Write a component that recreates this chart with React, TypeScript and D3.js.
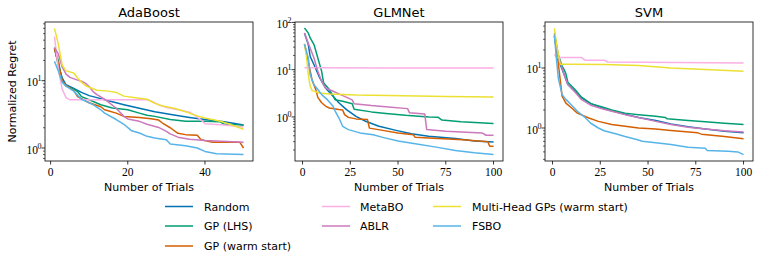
import React from 'react';
import * as d3 from 'd3';

type Pt = [number, number];

const methods = ['Random', 'GP (LHS)', 'GP (warm start)', 'MetaBO', 'ABLR', 'Multi-Head GPs (warm start)', 'FSBO'];
const colors = ['#0173b2', '#029e73', '#d55e00', '#fbafe4', '#cc78bc', '#ece133', '#56b4e9'];

// AdaBoost
const adaRandom: Pt[] = [[1, 31], [2, 17], [3, 11], [4, 8.7], [6, 7.7], [8, 6.7], [10, 6.0], [12, 5.6], [14, 5.2], [17, 4.7], [19, 4.4], [23, 3.9], [27, 3.45], [32, 3.1], [36, 2.85], [40, 2.65], [45, 2.45], [50, 2.2]];
const adaLHS: Pt[] = [[1, 30], [2, 20], [3, 9.8], [4, 8.3], [6, 7.5], [7, 6.9], [8, 5.8], [10, 5.2], [13, 4.4], [16, 3.93], [20, 3.7], [23, 3.3], [25, 3.07], [27, 2.95], [31, 2.65], [35, 2.49], [40, 2.49], [44, 2.45], [45, 2.25], [50, 2.2]];
const adaWarm: Pt[] = [[1, 30], [2, 18], [3, 10], [4, 8.5], [6, 7.1], [7, 5.8], [10, 4.7], [13, 4.1], [14, 3.7], [17, 3.3], [19, 2.95], [23, 2.85], [26, 2.72], [28, 2.6], [29, 2.35], [31, 2.0], [33, 1.65], [35, 1.58], [38, 1.55], [39, 1.33], [42, 1.22], [49, 1.22], [50, 1.0]];
const adaMetaBO: Pt[] = [[1, 45], [2, 15], [3, 7.5], [4, 5.6], [5, 5.2], [25, 5.2], [26, 5.0], [28, 4.4], [30, 4.0], [33, 3.7], [36, 3.4], [38, 2.9], [39, 2.6], [40, 2.3], [45, 2.2], [50, 2.05]];
const adaABLR: Pt[] = [[1, 31], [2, 25], [3, 16], [4, 12.5], [5, 11.2], [7, 10.2], [8, 9.8], [9, 9.2], [10, 8.2], [11, 6.9], [12, 6.2], [14, 5.3], [15, 4.8], [17, 3.9], [19, 2.95], [20, 2.7], [23, 2.49], [25, 2.25], [28, 2.02], [30, 1.77], [31, 1.62], [33, 1.45], [36, 1.35], [40, 1.29], [50, 1.22]];
const adaMH: Pt[] = [[1, 60], [2, 35], [3, 17], [4, 14], [6, 13], [7, 11], [8, 9.5], [9, 8.5], [10, 8], [12, 7.2], [15, 7], [17, 6.7], [19, 5.9], [22, 5.6], [25, 5.3], [27, 4.6], [29, 4.2], [32, 3.9], [34, 3.6], [36, 3.3], [38, 3.0], [40, 2.8], [44, 2.5], [47, 2.2], [50, 1.9]];
const adaFSBO: Pt[] = [[1, 19.4], [2, 14], [3, 9.5], [4, 8.3], [6, 7.0], [8, 5.3], [11, 4.4], [13, 3.7], [14, 3.3], [17, 2.65], [19, 2.25], [21, 1.8], [23, 1.67], [25, 1.49], [27, 1.41], [30, 1.33], [31, 1.15], [35, 1.08], [38, 1.0], [40, 0.89], [43, 0.82], [50, 0.8]];

// GLMNet
const glmRandom: Pt[] = [[1, 60], [3, 34], [4, 19], [6, 12.7], [9, 6.7], [12, 4.1], [16, 2.74], [19, 2.0], [23, 1.43], [28, 1.03], [33, 0.81], [40, 0.635], [49, 0.52], [57, 0.44], [66, 0.39], [80, 0.35], [90, 0.31], [100, 0.295]];
const glmLHS: Pt[] = [[1, 76], [3, 60], [4, 47], [6, 34], [8, 17.7], [10, 9.2], [11, 5.3], [14, 3.8], [16, 2.8], [17, 2.32], [21, 2.15], [26, 1.9], [27, 1.45], [36, 1.28], [45, 1.17], [54, 1.08], [66, 1.0], [71, 0.98], [73, 0.86], [83, 0.79], [100, 0.73]];
const glmWarm: Pt[] = [[1, 35], [3, 15], [5, 6], [7, 3.7], [8, 2.6], [10, 2.0], [12, 1.7], [14, 1.55], [19, 1.43], [21, 1.4], [22, 1.12], [24, 0.98], [28, 0.91], [34, 0.88], [35, 0.58], [42, 0.52], [50, 0.46], [58, 0.42], [59, 0.37], [71, 0.35], [84, 0.33], [97, 0.30], [98, 0.24], [100, 0.24]];
const glmMetaBO: Pt[] = [[1, 11], [50, 10.9], [100, 10.8]];
const glmABLR: Pt[] = [[1, 60], [3, 36], [6, 17.7], [8, 9.2], [10, 5.7], [12, 4.1], [16, 3.5], [19, 3.07], [24, 2.5], [26, 2.3], [27, 1.9], [36, 1.74], [45, 1.63], [55, 1.5], [56, 1.22], [64, 1.15], [65, 0.54], [75, 0.5], [94, 0.46], [96, 0.41], [100, 0.41]];
const glmMH: Pt[] = [[1, 34.5], [2, 20], [3, 8], [4, 4.5], [5, 3.6], [9, 3.2], [14, 3.07], [28, 2.9], [45, 2.85], [75, 2.7], [100, 2.65]];
const glmFSBO: Pt[] = [[1, 34.5], [3, 17.7], [4, 7.8], [6, 4.8], [8, 3.8], [10, 2.97], [13, 2.32], [16, 1.68], [17, 1.35], [19, 0.96], [21, 0.635], [24, 0.54], [30, 0.46], [37, 0.42], [42, 0.37], [50, 0.31], [59, 0.27], [70, 0.23], [80, 0.195], [90, 0.174], [100, 0.16]];

// SVM
const svmRandom: Pt[] = [[1, 34], [2, 21], [4, 11.4], [6, 7.9], [8, 5.3], [12, 4.0], [15, 3.2], [20, 2.55], [26, 2.15], [31, 1.93], [38, 1.70], [45, 1.5], [54, 1.33], [62, 1.17], [71, 1.05], [80, 0.96], [90, 0.88], [100, 0.83]];
const svmLHS: Pt[] = [[1, 38], [3, 16.7], [5, 10.7], [6, 9.5], [7, 8.0], [8, 5.8], [12, 4.3], [15, 3.3], [20, 2.55], [26, 2.25], [31, 2.0], [38, 1.77], [45, 1.67], [54, 1.57], [59, 1.5], [60, 1.42], [71, 1.33], [80, 1.27], [90, 1.2], [100, 1.14]];
const svmWarm: Pt[] = [[1, 34], [3, 12], [5, 3.4], [7, 2.6], [10, 2.15], [13, 1.77], [19, 1.47], [24, 1.29], [31, 1.14], [38, 1.07], [45, 1.0], [54, 0.96], [62, 0.91], [76, 0.83], [78, 0.79], [90, 0.72], [100, 0.66]];
const svmMetaBO: Pt[] = [[1, 17], [2, 15], [15, 15], [17, 13.5], [27, 13.5], [29, 12.6], [100, 12.1]];
const svmABLR: Pt[] = [[1, 36], [3, 15.5], [6, 7.9], [8, 5.3], [12, 3.9], [15, 3.0], [20, 2.4], [26, 2.1], [31, 1.9], [38, 1.67], [45, 1.5], [54, 1.29], [62, 1.14], [71, 1.03], [80, 0.96], [90, 0.9], [100, 0.86]];
const svmMH: Pt[] = [[1, 46], [2, 25.6], [4, 11.6], [10, 11.5], [27, 11.4], [45, 11.0], [62, 10.0], [80, 9.4], [100, 8.8]];
const svmFSBO: Pt[] = [[1, 35], [2, 14.7], [3, 6.8], [5, 3.6], [7, 3.0], [10, 2.4], [13, 1.9], [17, 1.5], [20, 1.2], [24, 1.0], [27, 0.9], [33, 0.8], [38, 0.72], [45, 0.63], [47, 0.6], [54, 0.57], [62, 0.53], [71, 0.48], [80, 0.46], [81, 0.42], [92, 0.41], [97, 0.40], [100, 0.36]];

const adaXTicks = [0, 20, 40];
const longXTicks = [0, 25, 50, 75, 100];

const panels = [
  { title: 'AdaBoost', left: 45, xDomain: [-1.45, 52.45], yDomain: [0.641, 74.5], xTicks: adaXTicks, series: [adaRandom, adaLHS, adaWarm, adaMetaBO, adaABLR, adaMH, adaFSBO], yLabel: true },
  { title: 'GLMNet', left: 295, xDomain: [-3.95, 104.95], yDomain: [0.117, 102], xTicks: longXTicks, series: [glmRandom, glmLHS, glmWarm, glmMetaBO, glmABLR, glmMH, glmFSBO], yLabel: false },
  { title: 'SVM', left: 545, xDomain: [-3.95, 104.95], yDomain: [0.282, 58.4], xTicks: longXTicks, series: [svmRandom, svmLHS, svmWarm, svmMetaBO, svmABLR, svmMH, svmFSBO], yLabel: false },
];

const W = 208;
const TOP = 22;
const BOTTOM = 161;
const sans = '"DejaVu Sans", sans-serif';
const serif = '"Liberation Serif", serif';

function Panel({ p }: { p: typeof panels[number] }) {
  const x = d3.scaleLinear().domain(p.xDomain).range([p.left, p.left + W]);
  const y = d3.scaleLog().domain(p.yDomain).range([BOTTOM, TOP]);
  const line = d3.line<Pt>().x(d => x(d[0])).y(d => y(d[1]));

  const lo = Math.floor(Math.log10(p.yDomain[0]));
  const hi = Math.ceil(Math.log10(p.yDomain[1]));
  const major: number[] = [];
  const minor: number[] = [];
  for (let e = lo; e <= hi; e++) {
    for (let m = 1; m < 10; m++) {
      const v = m * Math.pow(10, e);
      if (v < p.yDomain[0] || v > p.yDomain[1]) continue;
      if (m === 1) major.push(e); else minor.push(v);
    }
  }

  return (
    <g>
      <clipPath id={`clip-${p.title}`}>
        <rect x={p.left} y={TOP} width={W} height={BOTTOM - TOP} />
      </clipPath>
      <g clipPath={`url(#clip-${p.title})`}>
        {p.series.map((s, i) => (
          <path key={i} d={line(s) ?? ''} fill="none" stroke={colors[i]} strokeWidth={1.5} strokeLinejoin="round" />
        ))}
      </g>
      <rect x={p.left} y={TOP} width={W} height={BOTTOM - TOP} fill="none" stroke="#000" strokeWidth={0.8} />
      {p.xTicks.map(t => (
        <g key={t}>
          <line x1={x(t)} x2={x(t)} y1={BOTTOM} y2={BOTTOM + 3.5} stroke="#000" strokeWidth={0.8} />
          <text x={x(t)} y={175.5} textAnchor="middle" fontFamily={serif} fontSize={11.5}>{t}</text>
        </g>
      ))}
      {minor.map(v => (
        <line key={v} x1={p.left - 2} x2={p.left} y1={y(v)} y2={y(v)} stroke="#000" strokeWidth={0.6} />
      ))}
      {major.map(e => (
        <g key={e}>
          <line x1={p.left - 3.5} x2={p.left} y1={y(Math.pow(10, e))} y2={y(Math.pow(10, e))} stroke="#000" strokeWidth={0.8} />
          <text x={p.left - 7} y={y(Math.pow(10, e)) + 5.5} textAnchor="end" fontFamily={serif} fontSize={11.5}>10</text>
          <text x={p.left - 3.5} y={y(Math.pow(10, e)) + 0.5} textAnchor="end" fontFamily={serif} fontSize={8}>{e}</text>
        </g>
      ))}
      <text x={p.left + W / 2} y={17} textAnchor="middle" fontFamily={sans} fontSize={13}>{p.title}</text>
      <text x={p.left + W / 2} y={191} textAnchor="middle" fontFamily={sans} fontSize={11}>Number of Trials</text>
      {p.yLabel && (
        <text transform={`translate(16,${(TOP + BOTTOM) / 2}) rotate(-90)`} textAnchor="middle" fontFamily={sans} fontSize={11}>Normalized Regret</text>
      )}
    </g>
  );
}

const legendCols = [
  { lineX: 165, textX: 204, items: [0, 1, 2] },
  { lineX: 322, textX: 360, items: [3, 4] },
  { lineX: 433, textX: 472, items: [5, 6] },
];
const legendRows = [206.5, 226, 246];

export default function App() {
  return (
    <svg width={762} height={266} style={{ position: 'absolute', left: 0, top: 0, background: '#fff' }}>
      {panels.map(p => <Panel key={p.title} p={p} />)}
      {legendCols.map((c, ci) => (
        <g key={ci}>
          {c.items.map((m, r) => (
            <g key={m}>
              <line x1={c.lineX} x2={c.lineX + 28} y1={legendRows[r]} y2={legendRows[r]} stroke={colors[m]} strokeWidth={1.5} />
              <text x={c.textX} y={legendRows[r] + 4} fontFamily={sans} fontSize={11}>{methods[m]}</text>
            </g>
          ))}
        </g>
      ))}
    </svg>
  );
}
